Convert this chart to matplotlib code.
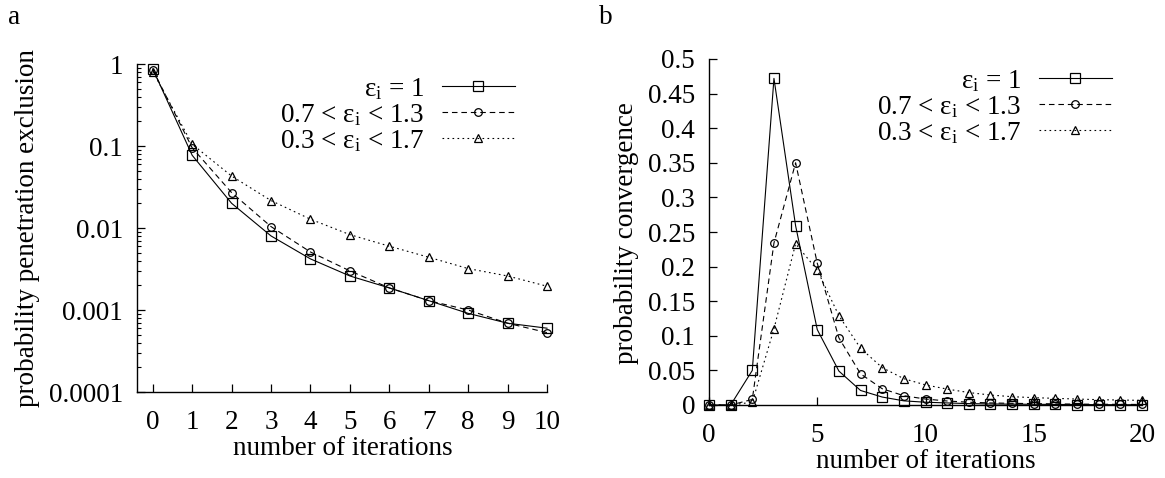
import matplotlib
matplotlib.use("Agg")
import matplotlib.pyplot as plt
from matplotlib.ticker import FixedLocator, FixedFormatter, LogLocator, NullFormatter

plt.rcParams['font.family'] = ['Liberation Serif', 'DejaVu Serif']
plt.rcParams['mathtext.fontset'] = 'custom'
plt.rcParams['mathtext.rm'] = 'Liberation Serif'
plt.rcParams['mathtext.it'] = 'Liberation Serif'

# ---------------- data ----------------
series_labels = [r'$\mathregular{ε_i}$ = 1',
                 r'0.7 < $\mathregular{ε_i}$ < 1.3',
                 r'0.3 < $\mathregular{ε_i}$ < 1.7']

iters_a = list(range(0, 11))
excl_eps1 = [0.87, 0.077, 0.020, 0.0080, 0.0042, 0.0026, 0.00186, 0.00130, 0.00091, 0.00069, 0.00060]
excl_eps03 = [0.85, 0.095, 0.027, 0.0104, 0.0051, 0.0030, 0.00186, 0.00130, 0.00100, 0.00069, 0.00053]
excl_eps07 = [0.81, 0.105, 0.043, 0.0216, 0.0128, 0.0083, 0.0060, 0.0044, 0.0032, 0.0026, 0.00195]

iters_b = list(range(0, 21))
conv_eps1 = [0, 0, 0.050, 0.472, 0.259, 0.109, 0.049, 0.021, 0.0115, 0.006, 0.004,
             0.003, 0.002, 0.0015, 0.0012, 0.001, 0.0008, 0.0006, 0.0005, 0.0004, 0.0003]
conv_eps03 = [0, 0, 0.008, 0.234, 0.350, 0.205, 0.097, 0.045, 0.0235, 0.0134, 0.0086,
              0.0058, 0.004, 0.003, 0.0024, 0.002, 0.0016, 0.0013, 0.0011, 0.0009, 0.0008]
conv_eps07 = [0, 0, 0.004, 0.110, 0.233, 0.195, 0.129, 0.082, 0.054, 0.038, 0.029,
              0.023, 0.018, 0.0144, 0.012, 0.0106, 0.0096, 0.0086, 0.0077, 0.0072, 0.0067]

yticks_a = [0.0001, 0.001, 0.01, 0.1, 1]
yticklabels_a = ['0.0001', '0.001', '0.01', '0.1', '1']
xticks_a = list(range(0, 11))
yticks_b = [0, 0.05, 0.1, 0.15, 0.2, 0.25, 0.3, 0.35, 0.4, 0.45, 0.5]
yticklabels_b = ['0', '0.05', '0.1', '0.15', '0.2', '0.25', '0.3', '0.35', '0.4', '0.45', '0.5']
xticks_b = [0, 5, 10, 15, 20]

# ---------------- styles ----------------
FS = 19.5
W, H = 1165, 478
styles = [dict(ls='-', marker='s', ms=6.5),
          dict(ls=(0, (5.0, 3.5)), marker='o', ms=5.5),
          dict(ls=(0, (1.5, 3.0)), marker='^', ms=6.0)]

fig = plt.figure(figsize=(W / 100, H / 100), dpi=100)

def fx(px):
    return px / W

def fy(py):
    return 1 - py / H

ax1 = fig.add_axes([fx(137), fy(392), fx(547) - fx(137), fy(64) - fy(392)])
ax2 = fig.add_axes([fx(709), fy(405), fx(1142) - fx(709), fy(59) - fy(405)])

for ys, st, lab in zip([excl_eps1, excl_eps03, excl_eps07], styles, series_labels):
    ax1.plot(iters_a, ys, color='black', lw=0.8, linestyle=st['ls'], marker=st['marker'],
             ms=st['ms'], mfc='none', mec='black', mew=0.9, label=lab, clip_on=False)

for ys, st, lab in zip([conv_eps1, conv_eps03, conv_eps07], styles, series_labels):
    ax2.plot(iters_b, ys, color='black', lw=0.8, linestyle=st['ls'], marker=st['marker'],
             ms=st['ms'], mfc='none', mec='black', mew=0.9, label=lab, clip_on=False)

# ---- axis a ----
ax1.set_yscale('log')
ax1.set_ylim(1e-4, 1)
ax1.set_xlim(-0.4, 10)
ax1.yaxis.set_major_locator(FixedLocator(yticks_a))
ax1.yaxis.set_major_formatter(FixedFormatter(yticklabels_a))
ax1.yaxis.set_minor_locator(LogLocator(base=10, subs=range(2, 10)))
ax1.yaxis.set_minor_formatter(NullFormatter())
ax1.set_xticks(xticks_a)
ax1.set_xticklabels([str(v) for v in xticks_a])

# ---- axis b ----
ax2.set_ylim(0, 0.5)
ax2.set_xlim(0, 20)
ax2.set_yticks(yticks_b)
ax2.set_yticklabels(yticklabels_b)
ax2.set_xticks(xticks_b)
ax2.set_xticklabels([str(v) for v in xticks_b])

for ax in (ax1, ax2):
    for s in ('top', 'right'):
        ax.spines[s].set_visible(False)
    for s in ('left', 'bottom'):
        ax.spines[s].set_linewidth(1.0)
    ax.tick_params(which='major', direction='in', length=6, width=0.9, labelsize=FS)
    ax.tick_params(which='minor', direction='in', length=3, width=0.8)
    ax.tick_params(axis='x', pad=13)
    ax.tick_params(axis='y', pad=10)
    ax.set_facecolor('none')

ax1.set_xlabel('number of iterations', fontsize=FS)
ax1.set_ylabel('probability penetration exclusion', fontsize=FS)
ax1.xaxis.set_label_coords(0.502, -0.173)
ax1.xaxis.label.set_va('center')
ax1.yaxis.set_label_coords(-0.266, 0.5)
ax1.yaxis.label.set_va('center')

ax2.set_xlabel('number of iterations', fontsize=FS)
ax2.set_ylabel('probability convergence', fontsize=FS)
ax2.xaxis.set_label_coords(0.50, -0.163)
ax2.xaxis.label.set_va('center')
ax2.yaxis.set_label_coords(-0.19, 0.497)
ax2.yaxis.label.set_va('center')

leg_kw = dict(frameon=False, markerfirst=False, fontsize=FS, handlelength=2.7,
              handletextpad=0.65, labelspacing=0.0, borderpad=0, borderaxespad=0,
              numpoints=1, loc='upper right')
ax1.legend(bbox_to_anchor=(fx(515), fy(76)), bbox_transform=fig.transFigure, **leg_kw)
ax2.legend(bbox_to_anchor=(fx(1112), fy(68)), bbox_transform=fig.transFigure, **leg_kw)

fig.text(fx(14), fy(18), 'a', fontsize=FS, ha='center', va='center')
fig.text(fx(606), fy(18), 'b', fontsize=FS, ha='center', va='center')

fig.savefig('out.png', dpi=100)
